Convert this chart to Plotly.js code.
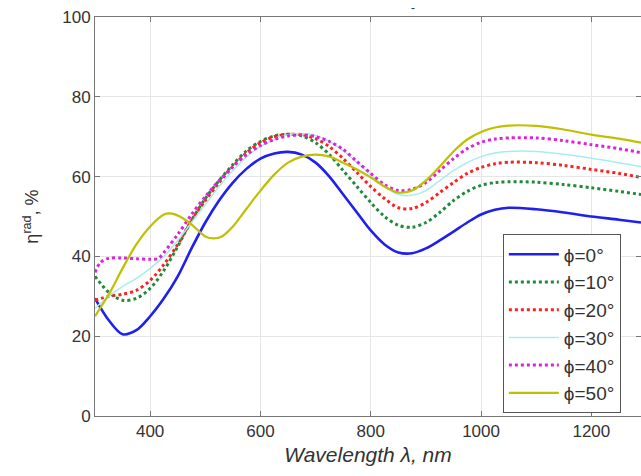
<!DOCTYPE html>
<html>
<head>
<meta charset="utf-8">
<script src="https://cdn.plot.ly/plotly-3.0.1.min.js"></script>
<style>html,body{margin:0;padding:0;background:#fff;}#chart{width:641px;height:476px;}</style>
</head>
<body>
<div id="chart"></div>
<script>
// Wavelength (nm) sample points
const wl = [300,325,350,375,400,425,450,475,500,525,550,575,600,625,650,675,700,725,750,775,800,825,850,875,900,925,950,975,1000,1025,1050,1100,1150,1200,1250,1290];

const eta0  = [29.5,24,20.5,21.5,25,29.5,35,42,48.5,54,58.5,62,64.5,65.8,66.2,65.5,63.5,60,55.5,51,46.5,43,41,40.8,42,44,46.2,48.5,50.5,51.7,52.2,51.8,51,50,49.2,48.5];
const eta10 = [35,31,29,29.5,32,36.5,42.5,49,54.5,59,63,66.5,68.8,70.2,70.6,70.2,68.5,65.5,61.5,57.5,53.5,50,47.8,47.3,48.5,51,54,56.3,57.8,58.5,58.7,58.6,58,57.2,56.3,55.5];
const eta20 = [29,30,30.5,31.5,34,38,43,49,54,58.5,62.5,66,68.5,70,70.6,70.5,69.5,67.5,64.5,61,57.5,54.5,52.2,52,53.5,56,58.5,60.8,62.3,63.2,63.6,63.5,62.8,61.8,60.8,59.8];
const eta30 = [27,30,32.5,34.5,37,40,44,48.5,53,57.5,61.5,65,67.5,69.3,70.5,70.8,70.3,68.8,66.5,63.5,60.5,57.5,55.5,55.3,56.5,59,61.5,63.5,65,65.9,66.3,66.3,65.6,64.6,63.5,62.5];

const wl40  = [300,310,325,350,375,400,415,425,450,475,500,525,550,575,600,625,650,675,700,725,750,775,800,825,850,875,900,925,950,975,1000,1025,1050,1100,1150,1200,1250,1290];
const eta40 = [36,38.5,39.5,39.6,39.4,39.3,39.5,41,45.5,50.5,55,59,62.5,65.5,67.8,69.3,70.2,70.5,70,68.8,66.8,63.8,60.8,58,56.5,56.8,58.5,61.5,64.5,67,68.6,69.4,69.7,69.7,69,68,67,66];

const wl50  = [300,325,350,375,400,425,440,460,475,500,515,530,550,575,600,625,650,675,700,725,750,775,800,825,850,875,900,925,950,975,1000,1025,1050,1100,1150,1200,1250,1290];
const eta50 = [25,30.5,37,43,47.5,50.5,50.7,49.5,48,45,44.5,45,47.5,52,56.5,60.5,63.5,65,65.5,65,63.5,61.8,59.8,57.5,56,56.5,59,62.5,66.3,69.3,71.2,72.3,72.8,72.7,71.8,70.5,69.5,68.5];

const names = ['\u03d5=0\u00b0','\u03d5=10\u00b0','\u03d5=20\u00b0','\u03d5=30\u00b0','\u03d5=40\u00b0','\u03d5=50\u00b0'];
const xTicks = [400,600,800,1000,1200];
const yTicks = [0,20,40,60,80,100];

const styles = [
  {color:'#1f1ff0', width:2.6, dash:'solid'},
  {color:'#1f8a3a', width:3, dash:'dot'},
  {color:'#ff2020', width:3, dash:'dot'},
  {color:'#a6eeee', width:1.5, dash:'solid'},
  {color:'#dd22dd', width:3, dash:'dot'},
  {color:'#c0c000', width:2.2, dash:'solid'}
];
const xs = [wl, wl, wl, wl, wl40, wl50];
const ys = [eta0, eta10, eta20, eta30, eta40, eta50];

const traces = ys.map((y, i) => ({
  x: xs[i], y: y, name: names[i], type: 'scatter', mode: 'lines',
  line: {color: styles[i].color, width: styles[i].width, dash: styles[i].dash, shape: 'spline', smoothing: 0.9}
}));

const fam = 'Liberation Sans, Arial, sans-serif';

const layout = {
  width: 641, height: 476,
  margin: {l: 95, r: 0, t: 17, b: 60},
  paper_bgcolor: '#fff', plot_bgcolor: '#fff',
  font: {family: fam, size: 17, color: '#333'},
  showlegend: true,
  legend: {
    x: 0.747, y: 0.455, xanchor: 'left', yanchor: 'top',
    bgcolor: '#fff', bordercolor: '#555', borderwidth: 1,
    font: {family: fam, size: 19, color: '#333'},
    itemwidth: 50,
    entrywidth: 122, entrywidthmode: 'pixels'
  },
  xaxis: {
    range: [300, 1290], tickvals: xTicks, ticktext: xTicks.map(String),
    showgrid: true, gridcolor: '#e6e6e6', gridwidth: 1,
    zeroline: false, showline: true, linecolor: '#777', linewidth: 1, mirror: 'ticks',
    ticks: 'inside', ticklen: 5, tickcolor: '#777',
    tickfont: {family: fam, size: 17, color: '#333'},
    title: {text: 'Wavelength \u03bb, nm', standoff: 6,
            font: {family: fam, size: 21, color: '#333', style: 'italic'}}
  },
  yaxis: {
    range: [0, 100], tickvals: yTicks, ticktext: yTicks.map(String),
    showgrid: true, gridcolor: '#e6e6e6', gridwidth: 1,
    zeroline: false, showline: true, linecolor: '#777', linewidth: 1, mirror: 'ticks',
    ticks: 'inside', ticklen: 5, tickcolor: '#777',
    tickfont: {family: fam, size: 17, color: '#333'},
    title: {text: '\u03b7<sup>rad</sup>, %', standoff: 18,
            font: {family: fam, size: 18, color: '#333'}}
  },
  annotations: [{
    text: '-', xref: 'paper', yref: 'paper', x: 0.582, y: 1.0, yanchor: 'bottom',
    showarrow: false, font: {family: fam, size: 12, color: '#333'}
  }]
};

Plotly.newPlot('chart', traces, layout, {displayModeBar: false, staticPlot: true});
</script>
</body>
</html>
